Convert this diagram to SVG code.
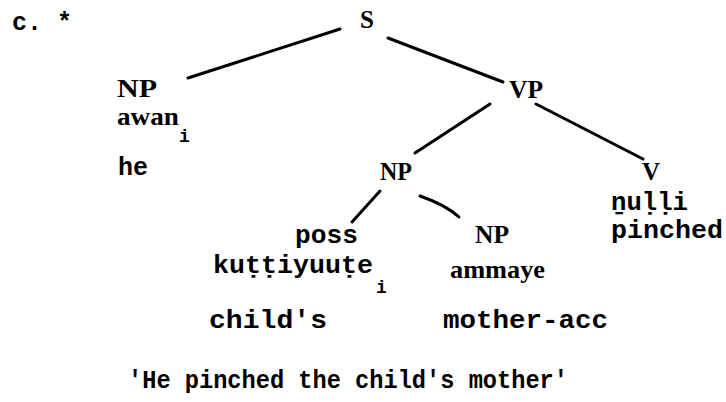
<svg xmlns="http://www.w3.org/2000/svg" width="726" height="402" viewBox="0 0 726 402">
<style>
.tw{font-family:"Liberation Mono","DejaVu Sans Mono",monospace;font-size:25px;font-weight:bold;fill:#000}
.pr{font-family:"Liberation Serif","DejaVu Serif",serif;font-size:25px;font-weight:bold;fill:#000}
.sub{font-family:"Liberation Mono","DejaVu Sans Mono",monospace;font-size:18px;font-weight:bold;fill:#000}
.e{stroke:#000;stroke-width:3;fill:none;stroke-linecap:round}
</style>
<rect width="726" height="402" fill="#fff"/>
<text class="tw" x="12" y="30">c. *</text>
<g id="edges">
<line class="e" x1="188" y1="78" x2="340" y2="29"/>
<line class="e" x1="388" y1="38" x2="503" y2="82"/>
<line class="e" x1="490" y1="104" x2="415" y2="153"/>
<line class="e" x1="536" y1="104" x2="643" y2="159"/>
<line class="e" x1="380" y1="191" x2="352" y2="222"/>
<path class="e" d="M420,196 Q446,205 459,217"/>
</g>
<g id="S"><text class="pr" x="367" y="28" text-anchor="middle">S</text></g>
<g id="NP1">
<text class="pr" x="137" y="97" text-anchor="middle" textLength="40" lengthAdjust="spacingAndGlyphs">NP</text>
<text class="pr" x="117" y="125" textLength="62" lengthAdjust="spacingAndGlyphs">awan</text>
<text class="sub" x="179" y="142">i</text>
<text class="tw" x="118" y="175">he</text>
</g>
<g id="VP"><text class="pr" x="526" y="98" text-anchor="middle" textLength="34" lengthAdjust="spacingAndGlyphs">VP</text></g>
<g id="NP2"><text class="pr" x="396" y="180" text-anchor="middle" textLength="32" lengthAdjust="spacingAndGlyphs">NP</text></g>
<g id="V">
<text class="pr" x="651" y="180" text-anchor="middle">V</text>
<text class="tw" x="611" y="210" textLength="77" lengthAdjust="spacingAndGlyphs">ṉuḷḷi</text>
<text class="tw" x="611" y="238" textLength="112" lengthAdjust="spacingAndGlyphs">pinched</text>
</g>
<g id="poss">
<text class="tw" x="295" y="243" textLength="63" lengthAdjust="spacingAndGlyphs">poss</text>
<text class="tw" x="213" y="273" textLength="160" lengthAdjust="spacingAndGlyphs">kuṭṭiyuuṭe</text>
<text class="sub" x="376" y="293">i</text>
<text class="tw" x="209" y="328" textLength="118" lengthAdjust="spacingAndGlyphs">child's</text>
</g>
<g id="NP3">
<text class="pr" x="492" y="243" text-anchor="middle" textLength="34" lengthAdjust="spacingAndGlyphs">NP</text>
<text class="pr" x="450" y="278" textLength="95" lengthAdjust="spacingAndGlyphs">ammaye</text>
<text class="tw" x="443" y="328" textLength="165" lengthAdjust="spacingAndGlyphs">mother-acc</text>
</g>
<text class="tw" x="128" y="388" textLength="440" lengthAdjust="spacingAndGlyphs">'He pinched the child's mother'</text>
</svg>
